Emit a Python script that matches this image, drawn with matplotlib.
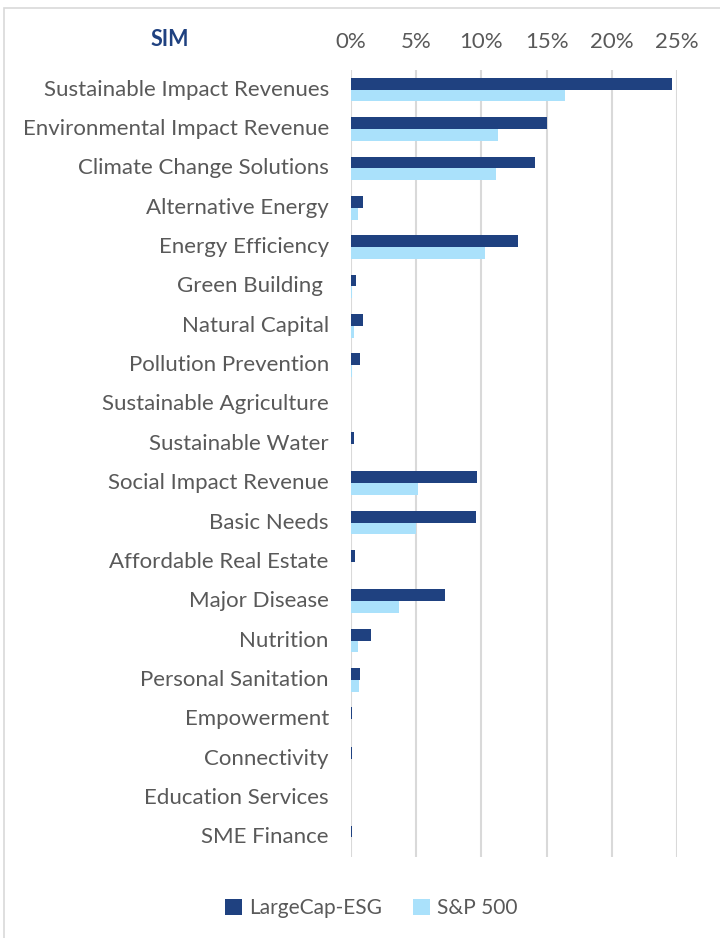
import numpy as np
import matplotlib.pyplot as plt
from matplotlib.ticker import FuncFormatter
from matplotlib.patches import Rectangle

categories = ["Sustainable Impact Revenues", "Environmental Impact Revenue",
              "Climate Change Solutions", "Alternative Energy", "Energy Efficiency",
              "Green Building ", "Natural Capital", "Pollution Prevention",
              "Sustainable Agriculture", "Sustainable Water", "Social Impact Revenue",
              "Basic Needs", "Affordable Real Estate", "Major Disease", "Nutrition",
              "Personal Sanitation", "Empowerment", "Connectivity",
              "Education Services", "SME Finance"]
largecap_esg = [24.6, 15.0, 14.1, 0.9, 12.8, 0.4, 0.9, 0.7, 0.0, 0.2,
                9.7, 9.6, 0.3, 7.2, 1.5, 0.7, 0.1, 0.08, 0.0, 0.1]
sp500 = [16.4, 11.3, 11.1, 0.5, 10.3, 0.1, 0.2, 0.1, 0.0, 0.0,
         5.1, 5.0, 0.0, 3.7, 0.5, 0.6, 0.0, 0.0, 0.0, 0.0]
series_names = ["LargeCap-ESG", "S&P 500"]

dark = "#1F4180"
light = "#AAE1FB"
grey_text = "#595959"

plt.rcParams['font.family'] = ['Lato', 'DejaVu Sans']

fig = plt.figure(figsize=(7.2, 9.38), dpi=100)
W, H = 720, 938
ax = fig.add_axes([351 / W, 1 - 857 / H, (677 - 351) / W, (857 - 70) / H])

y = np.arange(len(categories))
h = 0.3
ax.barh(y - h / 2, largecap_esg, height=h, color=dark, label=series_names[0])
ax.barh(y + h / 2, sp500, height=h, color=light, label=series_names[1])

ax.set_xlim(0, 25)
ax.set_ylim(len(categories) - 0.5, -0.5)
ax.set_xticks(np.arange(0, 26, 5))
ax.xaxis.set_major_formatter(FuncFormatter(lambda v, p: f"{v:.0f}%"))
ax.xaxis.tick_top()
ax.tick_params(axis="x", length=0, labelsize=16, labelcolor=grey_text, pad=13)
ax.set_yticks(y)
ax.set_yticklabels(categories, va="center")
ax.tick_params(axis="y", length=0, labelsize=16, labelcolor=grey_text, pad=16)
ax.grid(axis="x", color="#D9D9D9", linewidth=1.5)
ax.set_axisbelow(True)
for s in ax.spines.values():
    s.set_visible(False)

fig.text(170 / W, 1 - 40 / H, "SIM", color=dark, fontsize=15.5, fontweight="bold",
         ha="center", va="center")

fig.legend(loc="center", bbox_to_anchor=(0.516, 1 - 908 / H), ncol=2, frameon=False,
           fontsize=15, labelcolor=grey_text, handlelength=0.8, handleheight=0.8,
           handletextpad=0.35, columnspacing=1.5)

# outer chart border (only left and top visible in the crop)
fig.patches.append(Rectangle((4 / W, -0.1), 1.2, 1 - 8 / H + 0.1, transform=fig.transFigure,
                             fill=False, edgecolor="#D9D9D9", linewidth=1.2))

fig.savefig("out.png", dpi=100)
